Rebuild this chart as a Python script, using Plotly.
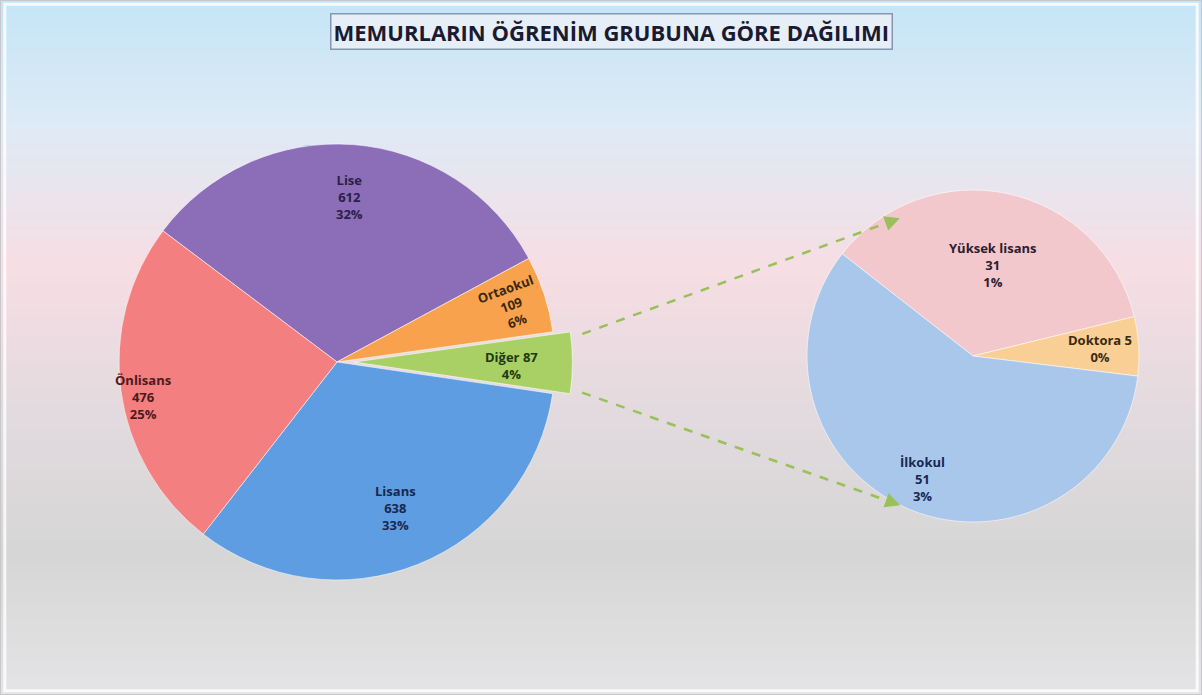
import math
import plotly.graph_objects as go

# ---------------- data ----------------
main_labels = ["Lise", "Ortaokul", "Diğer", "Lisans", "Önlisans"]
main_values = [612, 109, 87, 638, 476]
main_pct = ["32%", "6%", "4%", "33%", "25%"]
main_colors = ["#8c6db8", "#f9a24e", "#a9d064", "#5f9de2", "#f47f80"]
main_text_colors = ["#2a2048", "#3a2810", "#1e3a10", "#18284e", "#4a1a1c"]

sub_labels = ["Yüksek lisans", "Doktora", "İlkokul"]
sub_values = [31, 5, 51]
sub_pct = ["1%", "0%", "3%"]
sub_colors = ["#f3c8cc", "#f9cf96", "#a9c7eb"]
sub_text_colors = ["#2a2030", "#3a2a10", "#18284e"]

title_text = "MEMURLARIN ÖĞRENİM GRUBUNA GÖRE DAĞILIMI"

W, H = 1202, 695

# ---------------- geometry (pixels) ----------------
MAIN_START = 143.0   # start angle of first slice, degrees CCW from east
SUB_START = 142.0
PULL = 0.08
main_cx, main_cy, main_r = 337, 362, 218
sub_cx, sub_cy, sub_r = 973, 356, 166

main_box = main_r * (1 + PULL)
main_dom_x = [(main_cx - main_box) / W, (main_cx + main_box) / W]
main_dom_y = [1 - (main_cy + main_box) / H, 1 - (main_cy - main_box) / H]
sub_dom_x = [(sub_cx - sub_r) / W, (sub_cx + sub_r) / W]
sub_dom_y = [1 - (sub_cy + sub_r) / H, 1 - (sub_cy - sub_r) / H]


def px(x, y):
    return x / W, 1 - y / H


fig = go.Figure()

# background gradient
stops = [(0.0, (196, 229, 246)), (0.18, (222, 234, 246)), (0.38, (246, 222, 228)),
         (0.6, (226, 218, 222)), (0.8, (214, 214, 214)), (1.0, (228, 228, 230))]


def col_at(t):
    for (t0, c0), (t1, c1) in zip(stops[:-1], stops[1:]):
        if t0 <= t <= t1:
            f = (t - t0) / (t1 - t0) if t1 > t0 else 0
            return "rgb(%d,%d,%d)" % tuple(round(a + (b - a) * f) for a, b in zip(c0, c1))
    return "rgb(%d,%d,%d)" % stops[-1][1]


N = 120
shapes = []
for i in range(N):
    y0 = 1 - i / N
    y1 = 1 - (i + 1) / N
    shapes.append(dict(type="rect", xref="paper", yref="paper", x0=0, x1=1, y0=y1 - 0.001, y1=y0,
                       fillcolor=col_at((i + 0.5) / N), line=dict(width=0), layer="below"))
# frame
shapes.append(dict(type="rect", xref="paper", yref="paper", x0=0.004, x1=0.996, y0=0.006, y1=0.994,
                   line=dict(color="rgba(255,255,255,0.8)", width=3), fillcolor="rgba(0,0,0,0)", layer="below"))
shapes.append(dict(type="rect", xref="paper", yref="paper", x0=0, x1=1, y0=0, y1=1,
                   line=dict(color="#c8c8cc", width=2), fillcolor="rgba(0,0,0,0)", layer="below"))

# pies
pulls = [PULL if l == "Diğer" else 0 for l in main_labels]
fig.add_trace(go.Pie(labels=main_labels, values=main_values, sort=False, direction="clockwise",
                     rotation=90 - MAIN_START, pull=pulls, textinfo="none", hoverinfo="label+value",
                     marker=dict(colors=main_colors, line=dict(color="rgba(255,255,255,0.55)", width=1)),
                     domain=dict(x=main_dom_x, y=main_dom_y), showlegend=False))
fig.add_trace(go.Pie(labels=sub_labels, values=sub_values, sort=False, direction="clockwise",
                     rotation=90 - SUB_START, textinfo="none", hoverinfo="label+value",
                     marker=dict(colors=sub_colors, line=dict(color="rgba(255,255,255,0.55)", width=1)),
                     domain=dict(x=sub_dom_x, y=sub_dom_y), showlegend=False))

annotations = []
FONT = "Open Sans"
FS = 13

# main labels
main_rad = {"Lise": 0.76, "Ortaokul": 0.84, "Diğer": 0.92, "Lisans": 0.72, "Önlisans": 0.9}
main_rot = {"Ortaokul": -20}
tot = sum(main_values)
cum = 0
dig_a0 = dig_a1 = None
dig_off = (0, 0)
for lab, v, p, tc in zip(main_labels, main_values, main_pct, main_text_colors):
    a0 = MAIN_START - cum / tot * 360
    a1 = MAIN_START - (cum + v) / tot * 360
    mid = math.radians((a0 + a1) / 2)
    ox = oy = 0
    if lab == "Diğer":
        ox, oy = PULL * main_r * math.cos(mid), PULL * main_r * math.sin(mid)
        dig_a0, dig_a1, dig_off = a0, a1, (ox, oy)
    rr = main_rad[lab] * main_r
    x = main_cx + ox + rr * math.cos(mid)
    y = main_cy - oy - rr * math.sin(mid)
    if lab == "Diğer":
        txt = "<b>%s %d<br>%s</b>" % (lab, v, p)
        x -= 43
        y += 3
    else:
        txt = "<b>%s<br>%d<br>%s</b>" % (lab, v, p)
    if lab == "Önlisans":
        y += 9
    xp, yp = px(x, y)
    annotations.append(dict(x=xp, y=yp, xref="paper", yref="paper", text=txt, showarrow=False,
                            xanchor="center", yanchor="middle",
                            font=dict(family=FONT, size=FS, color=tc),
                            textangle=main_rot.get(lab, 0), align="center"))
    cum += v

# sub labels
sub_rad = {"Yüksek lisans": 0.56, "Doktora": 0.8, "İlkokul": 0.8}
stot = sum(sub_values)
cum = 0
for lab, v, p, tc in zip(sub_labels, sub_values, sub_pct, sub_text_colors):
    a0 = SUB_START - cum / stot * 360
    a1 = SUB_START - (cum + v) / stot * 360
    mid = math.radians((a0 + a1) / 2)
    rr = sub_rad[lab] * sub_r
    x = sub_cx + rr * math.cos(mid)
    y = sub_cy - rr * math.sin(mid)
    if lab == "Doktora":
        txt = "<b>%s %d<br>%s</b>" % (lab, v, p)
        x -= 6
    else:
        txt = "<b>%s<br>%d<br>%s</b>" % (lab, v, p)
    xp, yp = px(x, y)
    annotations.append(dict(x=xp, y=yp, xref="paper", yref="paper", text=txt, showarrow=False,
                            xanchor="center", yanchor="middle",
                            font=dict(family=FONT, size=FS, color=tc), align="center"))
    cum += v

# connector lines from Diğer slice to secondary pie
ox, oy = dig_off
p1 = (main_cx + ox + main_r * math.cos(math.radians(dig_a0)) + 12,
      main_cy - oy - main_r * math.sin(math.radians(dig_a0)) + 2)
p2 = (main_cx + ox + main_r * math.cos(math.radians(dig_a1)) + 12,
      main_cy - oy - main_r * math.sin(math.radians(dig_a1)) - 1)
q1 = (sub_cx + 0.94 * sub_r * math.cos(math.radians(118)), sub_cy - 0.94 * sub_r * math.sin(math.radians(118)))
q2 = (sub_cx + sub_r * math.cos(math.radians(-116)), sub_cy - sub_r * math.sin(math.radians(-116)))
green = "#9ac05a"
for a, b in [(p1, q1), (p2, q2)]:
    ax_, ay_ = px(*a)
    bx_, by_ = px(*b)
    shapes.append(dict(type="line", xref="paper", yref="paper", x0=ax_, y0=ay_, x1=bx_, y1=by_,
                       line=dict(color=green, width=2.5, dash="dash")))
    dx, dy = b[0] - a[0], b[1] - a[1]
    L = math.hypot(dx, dy)
    annotations.append(dict(x=bx_, y=by_, xref="paper", yref="paper", showarrow=True,
                            ax=-dx / L * 14, ay=-dy / L * 14, axref="pixel", ayref="pixel",
                            arrowhead=2, arrowsize=1.2, arrowwidth=2.5, arrowcolor=green, text=""))

# title
tx, ty = px(611, 32)
annotations.append(dict(x=tx, y=ty, xref="paper", yref="paper", showarrow=False,
                        xanchor="center", yanchor="middle",
                        text="<b>" + title_text + "</b>",
                        font=dict(family=FONT, size=22, color="#1a1a30"),
                        bgcolor="#e6eef8", bordercolor="#8796b0", borderwidth=1.5, borderpad=2))

fig.update_layout(width=W, height=H, margin=dict(l=0, r=0, t=0, b=0),
                  paper_bgcolor="#e0e0e0", plot_bgcolor="rgba(0,0,0,0)",
                  shapes=shapes, annotations=annotations, showlegend=False)

fig.write_html("out.html", config={"displayModeBar": False},
               post_script="document.body.style.margin='0';document.body.style.overflow='hidden';")
